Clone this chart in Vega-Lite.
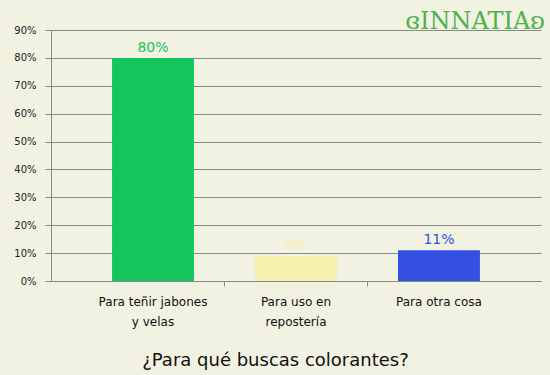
{
  "$schema": "https://vega.github.io/schema/vega-lite/v6.json",
  "width": 490,
  "height": 251,
  "autosize": {"type": "none"},
  "padding": {"left": 51, "top": 30, "right": 9, "bottom": 94},
  "background": "#F2F2E2",
  "config": {
    "view": {"stroke": null},
    "font": "DejaVu Sans"
  },
  "title": {
    "text": "ɞINNATIAʚ",
    "orient": "top",
    "anchor": "end",
    "font": "DejaVu Serif",
    "fontSize": 24,
    "fontWeight": "normal",
    "color": "#4DB34D",
    "offset": -9,
    "dx": 4
  },
  "data": {
    "values": [
      {"categoria": "Para teñir jabones y velas", "valor": 0.80},
      {"categoria": "Para uso en repostería", "valor": 0.09},
      {"categoria": "Para otra cosa", "valor": 0.11}
    ]
  },
  "encoding": {
    "x": {
      "field": "categoria",
      "type": "nominal",
      "sort": null,
      "scale": {"paddingInner": 0.427, "paddingOuter": 0.427}
    },
    "y": {
      "field": "valor",
      "type": "quantitative",
      "scale": {"domain": [0, 0.9], "nice": false},
      "axis": {
        "format": ".0%",
        "values": [0, 0.1, 0.2, 0.3, 0.4, 0.5, 0.6, 0.7, 0.8, 0.9],
        "title": null,
        "grid": true,
        "gridColor": "#888888",
        "gridOpacity": 1,
        "domainColor": "#888888",
        "tickColor": "#888888",
        "tickSize": 6,
        "labelPadding": 9,
        "labelFontSize": 10,
        "labelColor": "#222222",
        "labelFont": "DejaVu Sans"
      }
    },
    "color": {
      "field": "categoria",
      "type": "nominal",
      "sort": null,
      "scale": {
        "domain": ["Para teñir jabones y velas", "Para uso en repostería", "Para otra cosa"],
        "range": ["#14C65C", "#F6F0AE", "#3350E3"]
      },
      "legend": null
    }
  },
  "layer": [
    {
      "mark": {"type": "bar"},
      "encoding": {
        "x": {
          "field": "categoria",
          "type": "nominal",
          "sort": null,
          "axis": {
            "orient": "bottom",
            "title": "¿Para qué buscas colorantes?",
            "titleFont": "DejaVu Sans",
            "titleFontSize": 18,
            "titleFontWeight": "normal",
            "titleColor": "#111111",
            "titleX": 224,
            "titleY": 84,
            "titleAlign": "center",
            "titleBaseline": "alphabetic",
            "labelAngle": 0,
            "labelFontSize": 12,
            "labelFont": "DejaVu Sans",
            "labelColor": "#111111",
            "labelLineHeight": 20,
            "labelPadding": 15,
            "labelExpr": "datum.label == 'Para teñir jabones y velas' ? ['Para teñir jabones', 'y velas'] : datum.label == 'Para uso en repostería' ? ['Para uso en', 'repostería'] : datum.label",
            "ticks": false,
            "domainColor": "#888888",
            "grid": false
          }
        }
      }
    },
    {
      "mark": {"type": "text", "dy": -3, "fontSize": 14, "font": "DejaVu Sans", "baseline": "bottom"},
      "encoding": {
        "x": {
          "field": "categoria",
          "type": "nominal",
          "sort": null,
          "axis": {
            "orient": "bottom",
            "title": null,
            "labels": false,
            "domain": false,
            "grid": false,
            "ticks": true,
            "tickSize": 5,
            "bandPosition": 1.372,
            "tickColor": {"condition": {"test": "datum.value === 'Para otra cosa'", "value": "transparent"}, "value": "#888888"}
          }
        },
        "text": {"field": "valor", "type": "quantitative", "format": ".0%"}
      }
    }
  ],
  "resolve": {"axis": {"x": "independent"}}
}
